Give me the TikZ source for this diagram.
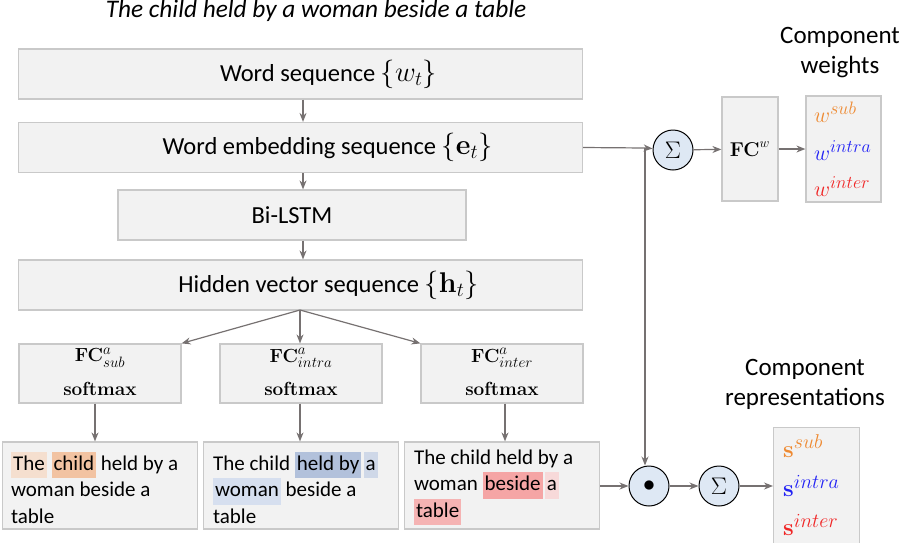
\RequirePackage{fix-cm}
\documentclass[tikz,border=0pt]{standalone}
\usepackage{amsmath}
\usepackage[no-math]{fontspec}
\setmainfont{Carlito}
\usetikzlibrary{arrows.meta}
\DeclareMathSizes{19}{19}{15}{12}
\DeclareMathSizes{22}{22}{18}{14}
\DeclareMathSizes{24}{24}{20}{15}
\DeclareMathSizes{20}{20}{13.5}{11}
\definecolor{boxfill}{HTML}{F2F2F2}
\definecolor{boxline}{HTML}{C9C9C9}
\definecolor{arr}{HTML}{767171}
\definecolor{circfill}{HTML}{DEE8F4}
\definecolor{hlThe}{HTML}{F5DFCF}
\definecolor{hlchild}{HTML}{F2C3A2}
\definecolor{hlheld}{HTML}{B2C1DB}
\definecolor{hlaone}{HTML}{CFD8E8}
\definecolor{hlwoman}{HTML}{D6DFEF}
\definecolor{hlbeside}{HTML}{F5A5A5}
\definecolor{hlatwo}{HTML}{F7D9D9}
\definecolor{hltable}{HTML}{F5B3B3}
\definecolor{csub}{HTML}{EE8A32}
\definecolor{cintra}{HTML}{2222F5}
\definecolor{cinter}{HTML}{F02525}
\newcommand\hlw[2]{{\setlength{\fboxsep}{0pt}\colorbox{#1}{\strut\kern2pt #2\kern2pt}}}
\newcommand\mth[2]{{\fontsize{#1}{#1}\selectfont$#2$}}
\tikzset{
  box/.style={draw=boxline, line width=1.2pt, fill=boxfill, inner sep=0pt},
  mainbox/.style={box, minimum width=564, minimum height=50, font=\fontsize{24.5}{28}\selectfont},
  fcbox/.style={box, minimum width=162, minimum height=59},
  fclbl/.style={inner sep=0pt, font=\fontsize{19}{22}\selectfont},
  txtbox/.style={box, minimum width=195, minimum height=87},
  txt/.style={anchor=west, inner sep=0pt, align=left, font=\fontsize{21}{26.5}\selectfont},
  opcirc/.style={circle, draw=black, line width=1pt, fill=circfill, minimum size=40, inner sep=0pt, font=\fontsize{24}{24}\selectfont},
  conn/.style={draw=arr, line width=1.2pt, -{Stealth[length=9pt,width=7pt]}},
  plain/.style={draw=arr, line width=1.2pt},
  lbl/.style={align=center, font=\fontsize{25}{30}\selectfont},
  row/.style={anchor=west, inner sep=0pt},
}
\begin{document}
\begin{tikzpicture}[x=1pt,y=-1pt]
\useasboundingbox (0,0) rectangle (903,542);
\node[font=\fontsize{25.3}{28}\selectfont\itshape] (title) at (316,11) {The child held by a woman beside a table};
\node[mainbox] (ws) at (300.5,74) {\hspace*{56pt}Word sequence \mth{28.5}{\{w_t\}}};
\node[mainbox] (we) at (300.5,147.5) {\hspace*{54pt}Word embedding sequence \mth{28.5}{\{\mathbf{e}_t\}}};
\node[mainbox, minimum width=348, minimum height=50] (bl) at (292,215) {Bi-LSTM};
\node[mainbox] (hv) at (300.5,285) {\hspace*{56pt}Hidden vector sequence \mth{28.5}{\{\mathbf{h}_t\}}};
\node[fcbox] (fs) at (100,373.5) {};
\node[fcbox] (fa) at (301,373.5) {};
\node[fcbox] (fi) at (502,373.5) {};
\node[fclbl] (fs1) at (100,358) {$\mathbf{FC}^a_{sub}$};
\node[fclbl] (fs2) at (100,389) {$\mathbf{softmax}$};
\node[fclbl] (fa1) at (301,358) {$\mathbf{FC}^a_{intra}$};
\node[fclbl] (fa2) at (301,389) {$\mathbf{softmax}$};
\node[fclbl] (fi1) at (502,358) {$\mathbf{FC}^a_{inter}$};
\node[fclbl] (fi2) at (502,389) {$\mathbf{softmax}$};
\node[txtbox] (ts) at (100,485.5) {};
\node[txtbox] (ta) at (301,485.5) {};
\node[txtbox] (ti) at (502,485.5) {};
\node[txt] (tst) at ([xshift=9pt,yshift=-2pt]ts.west) {\hlw{hlThe}{The} \hlw{hlchild}{child} held by a\\woman beside a\\table};
\node[txt] (tat) at ([xshift=10pt,yshift=-2pt]ta.west) {The child \hlw{hlheld}{held by}\hspace{-2.5pt} \hlw{hlaone}{a}\\\hlw{hlwoman}{woman} beside a\\table};
\node[txt] (tit) at ([xshift=10pt,yshift=-2pt]ti.west) {The child held by a\\woman \hlw{hlbeside}{beside}\hspace{-2.5pt} \hlw{hlatwo}{a}\\\hlw{hltable}{table}};
\node[opcirc] (s1) at (673,150) {$\Sigma$};
\node[box, minimum width=56, minimum height=104] (fw) at (750,149) {\mth{20}{\mathbf{FC}^w}};
\node[box, minimum width=75, minimum height=106] (wt) at (843.5,149) {};
\node[row] (w1) at (814,112) {\mth{22}{\color{csub}w^{sub}}};
\node[row] (w2) at (814,151) {\mth{22}{\color{cintra}w^{intra}}};
\node[row] (w3) at (814,187) {\mth{22}{\color{cinter}w^{inter}}};
\node[opcirc] (dot) at (649,486) {$\bullet$};
\node[opcirc] (s2) at (719,486) {$\Sigma$};
\node[box, minimum width=86, minimum height=130, anchor=north west] (rp) at (773,427) {};
\node[row] (r1) at (783,446) {\mth{24}{\color{csub}\mathbf{s}^{sub}}};
\node[row] (r2) at (783,486) {\mth{24}{\color{cintra}\mathbf{s}^{intra}}};
\node[row] (r3) at (783,525) {\mth{24}{\color{cinter}\mathbf{s}^{inter}}};
\node[lbl] (cw) at (840,53) {Component\\weights};
\node[lbl] (cr) at (805,384) {Component\\representations};
\coordinate (ax) at (303,0);
\coordinate (hb) at (300,310);
\coordinate (j) at (645,148);
\draw[conn] (ws.south -| ax) -- (we.north -| ax);
\draw[conn] (we.south -| ax) -- (bl.north -| ax);
\draw[conn] (bl.south -| ax) -- (hv.north -| ax);
\draw[conn] (hb) -- (fs.north east);
\draw[conn] (hb) -- (fa.north -| hb);
\draw[conn] (hb) -- (fi.north west);
\draw[conn] ([xshift=-5pt]fs.south) -- ([xshift=-5pt]fs.south |- ts.north);
\draw[conn] ([xshift=-1pt]fa.south) -- ([xshift=-1pt]fa.south |- ta.north);
\draw[conn] ([xshift=3pt]fi.south) -- ([xshift=3pt]fi.south |- ti.north);
\draw[plain] (we.east) -- (j);
\draw[conn] (j) -- (s1);
\draw[conn] (j) -- (dot.north -| j);
\draw[conn] (s1) -- (fw);
\draw[conn] (fw) -- (wt);
\draw[conn] (ti.east |- dot) -- (dot);
\draw[conn] (dot) -- (s2);
\draw[conn] (s2) -- (rp.west |- s2);
\end{tikzpicture}
\end{document}
